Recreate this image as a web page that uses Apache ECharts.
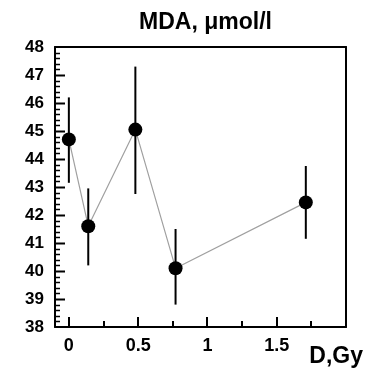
<!DOCTYPE html>
<html>
<head>
<meta charset="utf-8">
<script src="https://cdn.jsdelivr.net/npm/echarts@6/dist/echarts.min.js"></script>
<style>
html,body{margin:0;padding:0;background:#fff;}
#chart{width:368px;height:378px;}
</style>
</head>
<body>
<div id="chart"></div>
<script>
var doseGy = [0, 0.14, 0.48, 0.77, 1.71];
var mdaMean = [44.7, 41.6, 45.05, 40.1, 42.45];
var mdaUpper = [46.2, 42.95, 47.3, 41.5, 43.75];
var mdaLower = [43.15, 40.2, 42.75, 38.8, 41.15];
var xMajorTicks = [0, 0.5, 1, 1.5];
var xMinorTicks = [0.25, 0.75, 1.25, 1.75];
var yMajorTicks = [38, 39, 40, 41, 42, 43, 44, 45, 46, 47, 48];
var titleText = 'MDA, \u03bcmol/l';
var xAxisTitle = 'D,Gy';

var FONT = '"Liberation Sans", Arial, sans-serif';
var points = doseGy.map(function (x, i) { return [x, mdaMean[i]]; });
var errs = doseGy.map(function (x, i) { return [x, mdaLower[i], mdaUpper[i]]; });
var yMinorTicks = [];
for (var i = 1; i < yMajorTicks.length; i++) {
  var step = (yMajorTicks[i] - yMajorTicks[i - 1]) / 5;
  for (var k = 1; k < 5; k++) yMinorTicks.push(+(yMajorTicks[i - 1] + k * step).toFixed(3));
}

function xTickSeries(values, len) {
  return {
    type: 'custom', zlevel: 2, z: 100,
    data: values.map(function (v) { return [v, yMajorTicks[0]]; }),
    renderItem: function (params, api) {
      var p = api.coord([api.value(0), api.value(1)]);
      var x = Math.round(p[0]);
      var b = Math.round(p[1]);
      return { type: 'line', shape: { x1: x, y1: b, x2: x, y2: b - len },
        style: { stroke: '#000', lineWidth: 2 } };
    }
  };
}
function yTickSeries(values, len, w) {
  return {
    type: 'custom', zlevel: 2, z: 100,
    data: values.map(function (v) { return [-0.1, v]; }),
    renderItem: function (params, api) {
      var p = api.coord([api.value(0), api.value(1)]);
      var l = Math.round(p[0]);
      var y = Math.round(p[1]) + 0.5;
      return { type: 'line', shape: { x1: l, y1: y, x2: l + len, y2: y },
        style: { stroke: '#000', lineWidth: w } };
    }
  };
}

var axisLineStyle = function () { return { show: true, onZero: false, lineStyle: { color: '#000', width: 2 } }; };

var chart = echarts.init(document.getElementById('chart'));
chart.setOption({
  animation: false,
  title: {
    text: titleText, left: 200.5, textAlign: 'center', top: 6,
    textStyle: { fontFamily: FONT, fontWeight: 'bold', fontSize: 23, color: '#000' }
  },
  grid: { left: 55, right: 22, top: 47, bottom: 51 },
  xAxis: [{
    type: 'value', min: -0.1, max: 2.0, zlevel: 1,
    axisLine: axisLineStyle(),
    splitLine: { show: false },
    axisTick: { show: false },
    axisLabel: { customValues: xMajorTicks, margin: 10, color: '#000', fontFamily: FONT, fontWeight: 'bold', fontSize: 18 }
  }, {
    type: 'value', min: -0.1, max: 2.0, position: 'top', zlevel: 1,
    axisLine: axisLineStyle(),
    splitLine: { show: false }, axisTick: { show: false }, axisLabel: { show: false }
  }],
  yAxis: [{
    type: 'value', min: 38, max: 48, interval: 1, zlevel: 1,
    axisLine: axisLineStyle(),
    splitLine: { show: false },
    axisTick: { show: false },
    axisLabel: { margin: 11, color: '#000', fontFamily: FONT, fontWeight: 'bold', fontSize: 17 }
  }, {
    type: 'value', min: 38, max: 48, interval: 1, position: 'right', zlevel: 1,
    axisLine: axisLineStyle(),
    splitLine: { show: false }, axisTick: { show: false }, axisLabel: { show: false }
  }],
  graphic: [{
    type: 'text', right: 5, top: 345,
    style: { text: xAxisTitle, font: 'bold 23px ' + FONT, fill: '#000' }
  }],
  series: [{
    type: 'line', data: points,
    lineStyle: { color: '#a0a0a0', width: 1.2 },
    symbol: 'none', z: 2
  }, {
    type: 'custom', data: errs, z: 3,
    renderItem: function (params, api) {
      var top = api.coord([api.value(0), api.value(2)]);
      var bot = api.coord([api.value(0), api.value(1)]);
      return { type: 'line', shape: { x1: top[0], y1: top[1], x2: bot[0], y2: bot[1] },
        style: { stroke: '#000', lineWidth: 2 } };
    }
  }, {
    type: 'scatter', data: points,
    symbol: 'circle', symbolSize: 14, itemStyle: { color: '#000', opacity: 1, borderWidth: 0 }, z: 4
  },
  xTickSeries(xMajorTicks, 10),
  xTickSeries(xMinorTicks, 6),
  yTickSeries(yMajorTicks.slice(1, -1), 10, 2),
  yTickSeries(yMinorTicks, 5, 1.5)]
});
</script>
</body>
</html>
